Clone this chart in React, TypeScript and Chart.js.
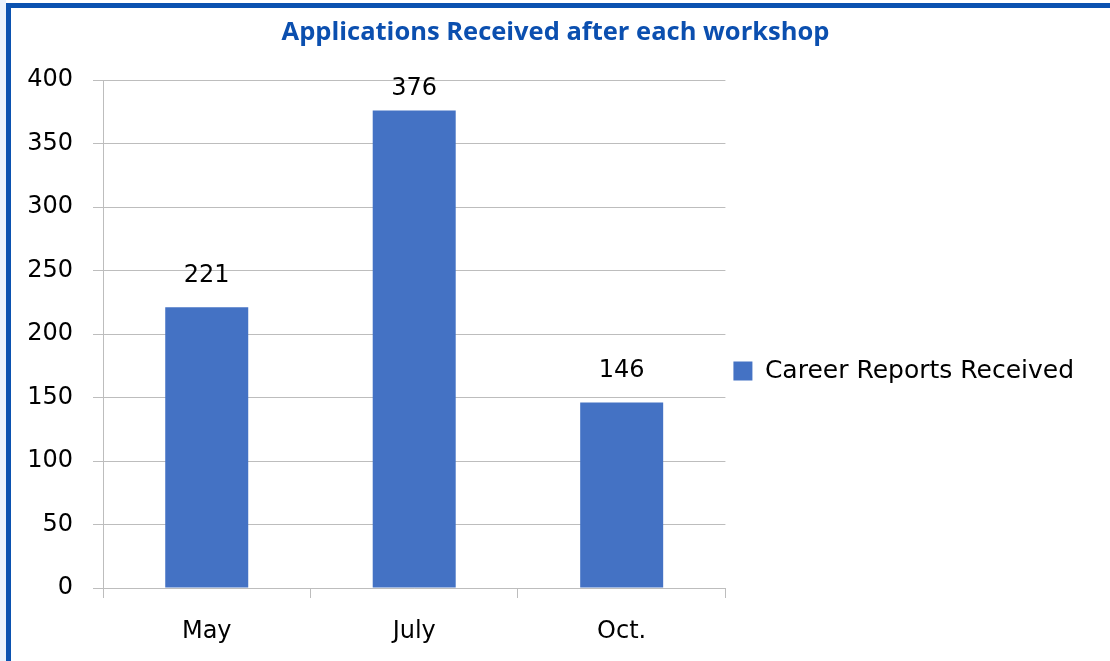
import React, { useEffect, useRef } from "react";
import { Chart, registerables } from "chart.js";

Chart.register(...registerables);

const categories: string[] = ["May", "July", "Oct."];
const careerReports: number[] = [221, 376, 146];
const seriesLabel = "Career Reports Received";
const chartTitle = "Applications Received after each workshop";
const yMin = 0;
const yMax = 400;
const yStep = 50;

const BAR_COLOR = "#4472C4";
const GRID_COLOR = "#BDBDBD";
const TITLE_COLOR = "#0B4FAF";
const FRAME_COLOR = "#0B52B0";
const FONT = "'DejaVu Sans', sans-serif";

const dataLabelPlugin = {
  id: "dataLabels",
  afterDatasetsDraw(chart: any) {
    const { ctx, chartArea } = chart;
    const meta = chart.getDatasetMeta(0);
    ctx.save();
    ctx.font = `24px ${FONT}`;
    ctx.fillStyle = "#000000";
    ctx.textAlign = "center";
    ctx.textBaseline = "middle";
    meta.data.forEach((bar: any, i: number) => {
      const v = chart.data.datasets[0].data[i];
      const y = Math.max(bar.y - 32, chartArea.top + 9);
      ctx.fillText(String(v), bar.x, y);
    });
    ctx.restore();
  },
};

export default function App() {
  const ref = useRef<HTMLCanvasElement | null>(null);

  useEffect(() => {
    if (!ref.current) return;
    const chart = new Chart(ref.current, {
      type: "bar",
      data: {
        labels: categories,
        datasets: [
          {
            label: seriesLabel,
            data: careerReports,
            backgroundColor: BAR_COLOR,
            borderWidth: 0,
            barPercentage: 0.4,
            categoryPercentage: 1.0,
          },
        ],
      },
      options: {
        responsive: false,
        animation: false,
        devicePixelRatio: 1,
        layout: { padding: { left: 27, right: 26, top: 0, bottom: 0 } },
        plugins: {
          title: {
            display: true,
            text: chartTitle,
            color: TITLE_COLOR,
            font: { family: "'Open Sans', sans-serif", size: 25.5, weight: "bold", lineHeight: 1.2 },
            padding: { top: 17, bottom: 32.4 },
          },
          legend: {
            display: true,
            position: "right",
            align: "center",
            maxWidth: 1000,
            title: { display: true, text: "", font: { size: 1, lineHeight: 1 }, padding: { top: 80, bottom: 0 } },
            labels: {
              boxWidth: 19,
              boxHeight: 19,
              padding: 8,
              color: "#000000",
              font: { family: FONT, size: 25 },
            },
          },
          tooltip: { enabled: false },
        },
        scales: {
          x: {
            grid: {
              display: true,
              drawOnChartArea: false,
              drawTicks: true,
              tickLength: 10,
              color: GRID_COLOR,
              offset: true,
            },
            border: { display: true, color: GRID_COLOR, width: 1 },
            ticks: {
              color: "#000000",
              font: { family: FONT, size: 24 },
              padding: 19,
            },
            afterFit: (axis: any) => {
              axis.height = 73;
            },
          },
          y: {
            min: yMin,
            max: yMax,
            grid: {
              color: GRID_COLOR,
              tickLength: 10,
              drawTicks: true,
            },
            border: { display: true, color: GRID_COLOR, width: 1 },
            ticks: {
              stepSize: yStep,
              color: "#000000",
              font: { family: FONT, size: 24 },
              padding: 20,
            },
            afterFit: (axis: any) => {
              axis.width = 76;
            },
          },
        },
      },
      plugins: [dataLabelPlugin],
    });
    return () => chart.destroy();
  }, []);

  return (
    <div style={{ position: "fixed", left: 0, top: 0, width: 1110, height: 661, background: "#ffffff", overflow: "hidden" }}>
      <canvas ref={ref} width={1110} height={661} style={{ display: "block", width: 1110, height: 661 }} />
      <div style={{ position: "absolute", left: 0, top: 0, width: 6, height: 661, background: "#EAF2FC" }} />
      <div style={{ position: "absolute", left: 6, top: 3, width: 5, height: 658, background: FRAME_COLOR }} />
      <div style={{ position: "absolute", left: 6, top: 3, width: 1104, height: 5, background: FRAME_COLOR }} />
    </div>
  );
}
